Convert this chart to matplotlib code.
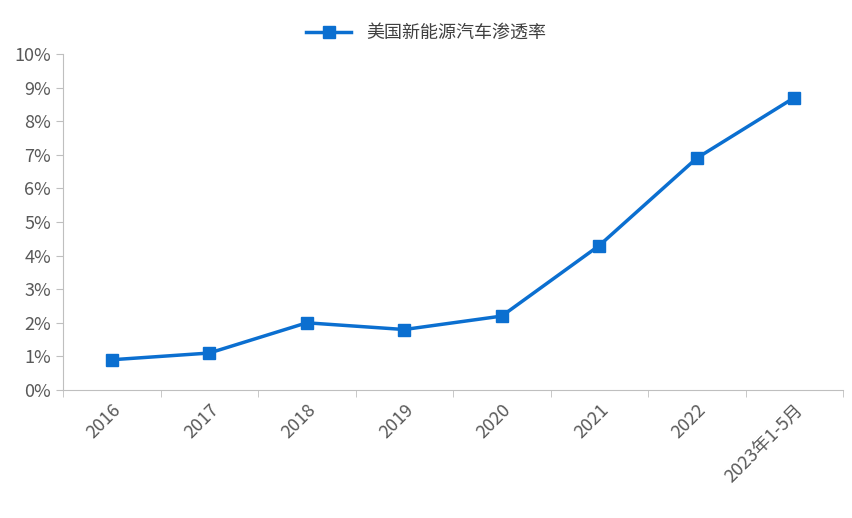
import numpy as np
import matplotlib.pyplot as plt

plt.rcParams['font.family'] = ['Noto Sans CJK SC', 'DejaVu Sans']

years = ['2016', '2017', '2018', '2019', '2020', '2021', '2022', '2023年1-5月']
rate = [0.9, 1.1, 2.0, 1.8, 2.2, 4.3, 6.9, 8.7]

fig = plt.figure(figsize=(8.52, 5.18), dpi=100)
ax = fig.add_axes([63 / 852, 1 - 390 / 518, 780 / 852, 336 / 518])

x = np.arange(len(years))
ax.plot(x, rate, color='#0B6FD0', lw=2.5, marker='s', ms=9, label='美国新能源汽车渗透率')

ax.set_xlim(-0.5, len(years) - 0.5)
ax.set_ylim(0, 10)
ax.set_yticks(range(0, 11))
ax.set_yticklabels([f'{v}%' for v in range(0, 11)], fontsize=13, color='#595959')
ax.set_xticks(x)
ax.set_xticklabels(years, rotation=45, ha='right', rotation_mode='anchor', fontsize=13, color='#595959')
ax.set_xticks(np.arange(-0.5, len(years)), minor=True)
ax.tick_params(axis='x', which='major', length=0, pad=8)
ax.tick_params(axis='x', which='minor', length=5, color='#BFBFBF')
ax.tick_params(axis='y', length=5, color='#BFBFBF')

for s in ['top', 'right']:
    ax.spines[s].set_visible(False)
ax.spines['left'].set_color('#BFBFBF')
ax.spines['bottom'].set_color('#BFBFBF')

fig.legend(loc='upper center', bbox_to_anchor=(0.5, 0.985), frameon=False, fontsize=13,
           handlelength=2.5, labelcolor='#404040')

fig.savefig('out.png', dpi=100)
